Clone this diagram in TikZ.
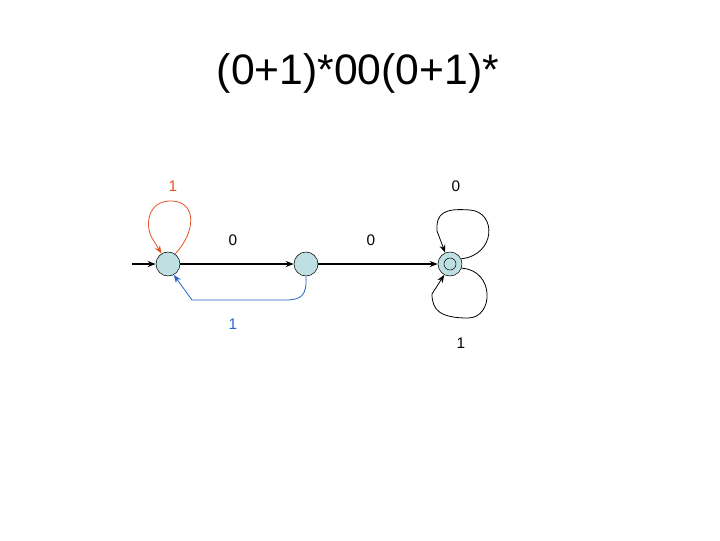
\documentclass[tikz,border=0pt]{standalone}
\usepackage{fontspec}
\setmainfont{Liberation Sans}
\usepackage{xcolor}
\usepackage{tikz}
\usetikzlibrary{arrows.meta, positioning}
\definecolor{statecyan}{RGB}{190, 224, 226}
\definecolor{loopred}{RGB}{228, 84, 36}
\definecolor{backblue}{RGB}{38, 102, 200}

\begin{document}
\begin{tikzpicture}[
    x=0.75pt, y=-0.75pt,
    statenode/.style={circle, draw=black, fill=statecyan, minimum size=24*0.75pt, inner sep=0pt},
    edgelabel/.style={font=\fontsize{11.5}{14}\selectfont},
    trans/.style={-{Stealth[length=6pt, width=4.5pt]}, line width=1.1pt},
    loopline/.style={-{Stealth[length=6pt, width=4.5pt]}, line width=0.6pt}
]
    \useasboundingbox (0,0) rectangle (720,540);
    \node[font=\fontsize{32}{36}\selectfont] (title) at (358,73) {(0+1)*00(0+1)*};

    \node[statenode] (q0) at (168,264) {};
    \node[statenode] (q1) at (306,264) {};
    \node[statenode] (q2) at (450,264) {};
    \node[circle, draw=black, minimum size=12*0.75pt, inner sep=0pt] (q2in) at (q2) {};
    \coordinate (start) at (132,264);

    \draw[trans] (start) -- (q0);
    \draw[trans] (q0) -- (q1);
    \draw[trans] (q1) -- (q2);

    \draw[loopline, draw=loopred] (q0.55) .. controls (196,232) and (197,202) .. (172,201)
        .. controls (147,200) and (145,226) .. (152,238) -- (q0.122);
    \draw[loopline, draw=backblue] (q1.south) .. controls (307,296) and (301,300) .. (285,300)
        -- (192,300) -- (q0.-62);
    \draw[loopline] (q2.25) .. controls (496,255) and (497,212) .. (470,210)
        .. controls (444,208) and (436,213) .. (437,231) -- (q2.113);
    \draw[loopline] (q2.-20) .. controls (495,270) and (494,318) .. (468,318)
        .. controls (440,318) and (432,310) .. (432,294) -- (q2.-118);

    \node[edgelabel, text=loopred] (l1) at (173,186) {1};
    \node[edgelabel] (l2) at (233,240) {0};
    \node[edgelabel, text=backblue] (l3) at (233,324) {1};
    \node[edgelabel] (l4) at (371,240) {0};
    \node[edgelabel] (l5) at (456,186) {0};
    \node[edgelabel] (l6) at (461,343) {1};
\end{tikzpicture}
\end{document}
